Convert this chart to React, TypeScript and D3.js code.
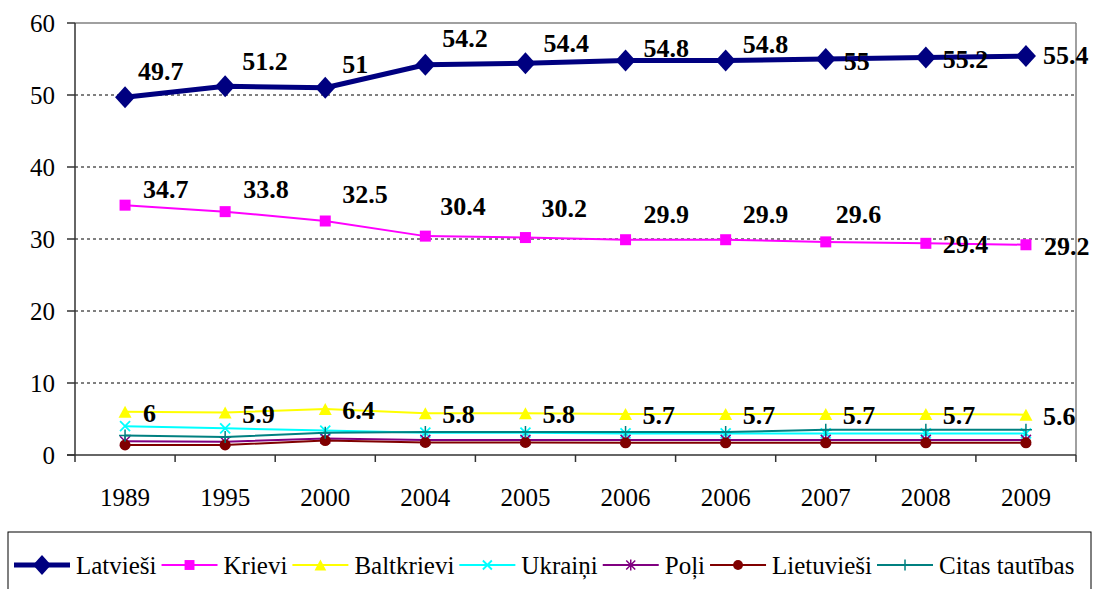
import React from "react";
import * as d3 from "d3";

const categories = ["1989", "1995", "2000", "2004", "2005", "2006", "2006", "2007", "2008", "2009"];
const latviesi = [49.7, 51.2, 51, 54.2, 54.4, 54.8, 54.8, 55, 55.2, 55.4];
const krievi = [34.7, 33.8, 32.5, 30.4, 30.2, 29.9, 29.9, 29.6, 29.4, 29.2];
const baltkrievi = [6, 5.9, 6.4, 5.8, 5.8, 5.7, 5.7, 5.7, 5.7, 5.6];
const ukraini = [4.0, 3.7, 3.4, 3.1, 3.1, 3.0, 3.0, 3.0, 3.0, 3.0];
const poli = [1.9, 1.85, 2.3, 2.1, 2.1, 2.1, 2.1, 2.1, 2.1, 2.1];
const lietuviesi = [1.4, 1.4, 2.0, 1.75, 1.75, 1.7, 1.7, 1.7, 1.7, 1.7];
const citas = [2.7, 2.5, 3.1, 3.2, 3.2, 3.2, 3.2, 3.5, 3.5, 3.5];
const yTicks = [0, 10, 20, 30, 40, 50, 60];

// label offsets (style)
const latLabelDx = [13, 17, 17, 17, 18, 18, 17, 18, 17, 17];
const latLabelDy = [-17, -16, -15, -18, -11, -3, -7, 11, 10, 8];
const krLabelDx = [18, 18, 17, 15, 16, 18, 17, 10, 17, 18];
const krLabelDy = [-7, -14, -18, -21, -21, -17, -17, -19, 10, 10];
const bkLabelDx = [18, 17, 17, 17, 17, 17, 17, 17, 17, 17];
const bkLabelDy = [10, 10, 10, 10, 10, 10, 10, 10, 10, 10];

type Marker = "diamond" | "square" | "triangle" | "x" | "star" | "circle" | "plus";

const series: { name: string; values: number[]; color: string; width: number; marker: Marker }[] = [
  { name: "Latvieši", values: latviesi, color: "#000080", width: 5, marker: "diamond" },
  { name: "Krievi", values: krievi, color: "#FF00FF", width: 2, marker: "square" },
  { name: "Baltkrievi", values: baltkrievi, color: "#FFFF00", width: 2, marker: "triangle" },
  { name: "Ukraiņi", values: ukraini, color: "#00FFFF", width: 2, marker: "x" },
  { name: "Poļi", values: poli, color: "#800080", width: 2, marker: "star" },
  { name: "Lietuvieši", values: lietuviesi, color: "#800000", width: 2, marker: "circle" },
  { name: "Citas tautības", values: citas, color: "#008080", width: 2, marker: "plus" },
];

const FONT = "Liberation Serif, Tinos, DejaVu Serif, serif";
const TS: React.CSSProperties = { fontFamily: FONT };

function markerEl(m: Marker, x: number, y: number, color: string, key: string, scale = 1) {
  const s = scale;
  switch (m) {
    case "diamond": {
      const w = 10 * s, h = 11 * s;
      return <path key={key} d={`M${x},${y - h}L${x + w},${y}L${x},${y + h}L${x - w},${y}Z`} fill={color} />;
    }
    case "square":
      return <rect key={key} x={x - 5.5 * s} y={y - 5.5 * s} width={11 * s} height={11 * s} fill={color} />;
    case "triangle": {
      const w = 6.5 * s, h = 6 * s;
      return <path key={key} d={`M${x},${y - h}L${x + w},${y + h}L${x - w},${y + h}Z`} fill={color} />;
    }
    case "x": {
      const r = 5 * s;
      return <path key={key} d={`M${x - r},${y - r}L${x + r},${y + r}M${x - r},${y + r}L${x + r},${y - r}`} stroke={color} strokeWidth={1.8} fill="none" />;
    }
    case "star": {
      const r = 5 * s;
      return <path key={key} d={`M${x - r},${y - r}L${x + r},${y + r}M${x - r},${y + r}L${x + r},${y - r}M${x},${y - r * 1.2}L${x},${y + r * 1.2}`} stroke={color} strokeWidth={1.5} fill="none" />;
    }
    case "circle":
      return <circle key={key} cx={x} cy={y} r={5.5 * s} fill={color} />;
    case "plus": {
      const r = 6 * s;
      return <path key={key} d={`M${x - r},${y}L${x + r},${y}M${x},${y - r}L${x},${y + r}`} stroke={color} strokeWidth={1.5} fill="none" />;
    }
  }
}

let ctx: CanvasRenderingContext2D | null = null;
function textWidth(t: string, font: string) {
  if (!ctx) ctx = document.createElement("canvas").getContext("2d");
  if (!ctx) return t.length * 11;
  ctx.font = font;
  return ctx.measureText(t).width;
}

export default function App() {
  const W = 1093, H = 589;
  const left = 75, right = 1076, top = 23, bottom = 455;
  const x = d3.scaleBand<number>().domain(d3.range(categories.length)).range([left, right]);
  const y = d3.scaleLinear().domain([0, 60]).range([bottom, top]);
  const cx = (i: number) => (x(i) as number) + x.bandwidth() / 2;
  const line = d3.line<number>().x((_, i) => cx(i)).y((v) => y(v));

  const labelSets = [
    { values: latviesi, dx: latLabelDx, dy: latLabelDy },
    { values: krievi, dx: krLabelDx, dy: krLabelDy },
    { values: baltkrievi, dx: bkLabelDx, dy: bkLabelDy },
  ];

  // legend layout
  const legFont = `25px "Liberation Serif", serif`;
  const lineLen = 56;
  let lx = 14;
  const legendItems = series.map((s) => {
    const x0 = lx;
    const tw = textWidth(s.name, legFont);
    lx = x0 + lineLen + 6 + tw + 5;
    return { s, x0, tx: x0 + lineLen + 6 };
  });
  const legY = 565;

  return (
    <svg width={W} height={H} style={{ position: "absolute", left: 0, top: 0, background: "#fff" }}>
      <rect x={0} y={0} width={W} height={H} fill="#fff" />
      {yTicks.filter((t) => t > 0 && t < 60).map((t) => (
        <line key={"g" + t} x1={left} x2={right} y1={y(t)} y2={y(t)} stroke="#000" strokeWidth={1} strokeDasharray="3,3" />
      ))}
      <line x1={left} x2={right} y1={top} y2={top} stroke="#808080" strokeWidth={1.5} />
      <line x1={right} x2={right} y1={top} y2={bottom} stroke="#808080" strokeWidth={1.5} />
      <line x1={left} x2={left} y1={top} y2={bottom} stroke="#333" strokeWidth={1.5} />
      <line x1={left - 8} x2={right} y1={bottom} y2={bottom} stroke="#333" strokeWidth={1.5} />
      {yTicks.map((t) => (
        <g key={"yt" + t}>
          <line x1={left - 8} x2={left} y1={y(t)} y2={y(t)} stroke="#333" strokeWidth={1.5} />
          <text x={left - 20} y={y(t) + 9} textAnchor="end" fontSize={25} fill="#000" style={TS}>{t}</text>
        </g>
      ))}
      {d3.range(categories.length + 1).map((i) => {
        const xx = left + i * x.bandwidth();
        return <line key={"xt" + i} x1={xx} x2={xx} y1={bottom} y2={bottom + 7} stroke="#333" strokeWidth={1.5} />;
      })}
      {categories.map((c, i) => (
        <text key={"xl" + i} x={cx(i)} y={506} textAnchor="middle" fontSize={25} fill="#000" style={TS}>{c}</text>
      ))}
      {series.map((s, si) => (
        <g key={"s" + si}>
          <path d={line(s.values) || ""} fill="none" stroke={s.color} strokeWidth={s.width} strokeLinejoin="round" />
          {s.values.map((v, i) => markerEl(s.marker, cx(i), y(v), s.color, `m${si}-${i}`))}
        </g>
      ))}
      {labelSets.map((ls, li) =>
        ls.values.map((v, i) => (
          <text key={`l${li}-${i}`} x={cx(i) + ls.dx[i]} y={y(v) + ls.dy[i]} fontSize={26} fontWeight="bold" fill="#000" style={TS}>{v}</text>
        ))
      )}
      <rect x={8} y={532} width={1083} height={70} fill="#fff" stroke="#000" strokeWidth={1} />
      {legendItems.map(({ s, x0, tx }, i) => (
        <g key={"lg" + i}>
          <line x1={x0} x2={x0 + lineLen} y1={legY} y2={legY} stroke={s.color} strokeWidth={s.width} />
          {markerEl(s.marker, x0 + lineLen / 2, legY, s.color, "lm" + i, 0.9)}
          <text x={tx} y={legY + 9} fontSize={25} fill="#000" style={TS}>{s.name}</text>
        </g>
      ))}
    </svg>
  );
}
